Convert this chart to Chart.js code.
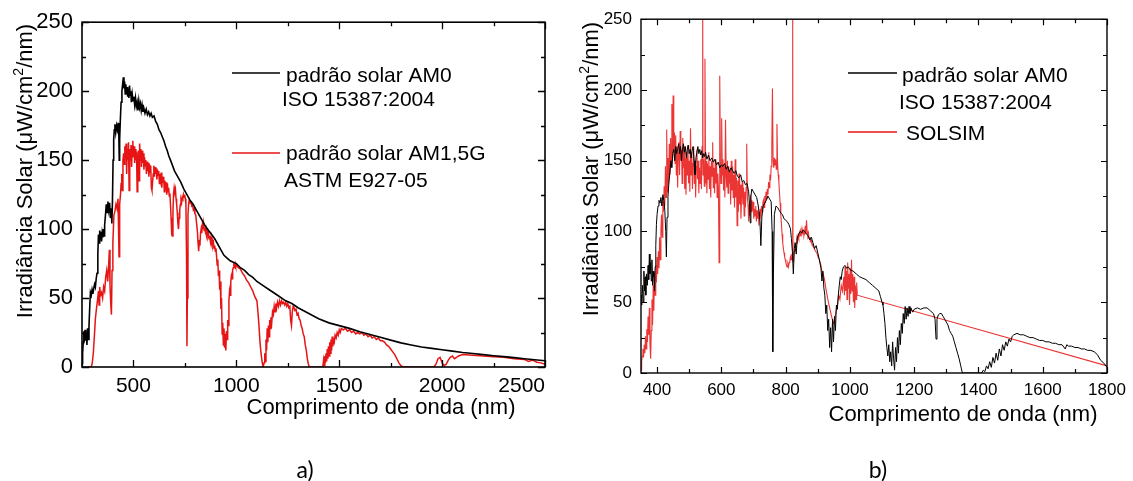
<!DOCTYPE html>
<html>
<head>
<meta charset="utf-8">
<script src="https://cdn.jsdelivr.net/npm/chart.js@4.4.1/dist/chart.umd.min.js"></script>
<style>
  body { margin: 0; background: #fff; width: 1133px; height: 481px; position: relative; overflow: hidden; }
  canvas { position: absolute; top: 0; }
  #chartA { left: 0; }
  #chartB { left: 560px; }
</style>
</head>
<body>
<canvas id="chartA" width="560" height="481"></canvas>
<canvas id="chartB" width="573" height="481"></canvas>
<script>
// ---- data: wavelength (nm), irradiance (uW/cm2/nm) ----

// a) AM0 reference spectrum (ISO 15387:2004)
const am0A = [[250,3],[253,10],[256,18],[259,26],[262,22],[265,27],[268,19],[271,25],[274,16],[277,28],[280,20],[284,30],[288,45],[291,54],[295,52],[299,56],[303,53],[307,57],[311,60],[315,58],[319,64],[323,68],[327,82],[330,96],[333,90],[336,99],[339,93],[342,98],[345,91],[348,97],[351,94],[354,100],[357,95],[360,103],[364,110],[368,118],[372,112],[376,120],[380,114],[384,119],[388,108],[392,115],[395,104],[398,120],[401,150],[404,165],[407,172],[410,176],[414,170],[418,175],[422,172],[426,177],[429,168],[431,150],[433,165],[436,178],[440,192],[444,200],[448,206],[451,210],[454,202],[457,207],[460,198],[463,205],[466,199],[469,203],[472,196],[475,201],[478,195],[481,204],[484,197],[487,200],[490,192],[494,198],[498,193],[502,196],[506,190],[510,195],[514,189],[518,192],[522,186],[526,193],[530,188],[534,191],[538,186],[542,190],[546,185],[550,188],[556,184],[562,187],[568,183],[574,185],[580,182],[586,184],[592,181],[600,182],[608,178],[616,176],[624,172],[632,170],[640,167],[648,164],[656,160],[664,157],[672,153],[680,150],[690,146],[700,142],[715,138],[730,134],[745,129],[760,125],[775,121],[790,118],[805,114],[820,110],[835,106],[850,102],[865,99],[880,96],[895,93],[910,89],[925,85],[940,81],[955,79],[970,77],[985,76],[1000,75],[1020,72],[1040,70],[1060,67],[1080,65],[1100,62],[1130,59],[1160,56],[1200,52],[1240,48],[1270,46],[1300,43],[1350,39],[1400,35],[1450,32],[1500,30],[1550,28],[1600,25.5],[1650,23.5],[1700,21.5],[1750,19.5],[1800,17.5],[1850,16],[1900,14.5],[1950,13.5],[2000,12.5],[2050,11.5],[2100,10.5],[2150,9.8],[2200,9],[2250,8.2],[2300,7.5],[2350,6.8],[2400,6],[2450,5.2],[2500,4.5]];

// a) AM1.5G reference spectrum (ASTM E927-05)
const am15gA = [[280,0],[295,0],[300,3],[305,10],[310,22],[315,35],[320,42],[325,48],[330,55],[333,45],[336,58],[340,52],[345,54],[350,50],[355,58],[360,55],[365,65],[370,70],[375,62],[380,75],[383,85],[386,60],[390,45],[393,38],[396,70],[400,90],[405,110],[410,113],[415,118],[420,115],[425,122],[430,80],[433,118],[437,125],
  [440,133],[443,140],[446,128],[449,150],[452,155],[455,147],[458,160],[461,152],[464,162],[467,140],[470,158],[473,150],[476,163],[479,128],[482,158],[485,150],[488,161],[491,145],[494,160],[497,164],[500,152],[503,160],[506,148],[509,158],[512,150],[515,156],[518,127],[521,150],[524,157],[527,135],[530,162],[533,150],[536,158],[539,145],[542,157],[545,148],[548,155],[551,143],[554,152],[557,146],[560,150],[563,140],[566,149],[569,142],[572,148],[575,138],[578,147],[581,141],[584,146],[587,130],[590,128],[593,134],[596,140],[599,146],[602,138],[605,145],[608,140],[611,144],[614,136],[617,143],[620,139],[623,142],[626,133],[629,140],[632,136],[635,141],[638,130],[641,138],[644,134],[647,138],[650,127],[653,135],[656,131],[659,134],[662,125],[665,133],[668,127],[671,130],[674,124],[677,126],[680,118],[683,108],[686,96],[689,95],[692,112],[695,126],[698,130],[701,127],[704,129],[707,122],[710,118],[713,112],[716,104],[719,100],[722,108],[725,114],[728,118],[731,121],[734,119],[737,123],[740,122],[743,125],[746,123],[749,125],[752,122],[755,118],[758,80],[760,15],[762,50],[765,110],[768,118],[771,121],[775,119],[779,120],[783,117],[787,118],[791,114],[795,115],[799,111],[803,110],[807,104],[811,98],[814,90],[817,84],[820,92],[823,88],[826,97],[829,100],[832,97],[835,103],[838,100],[841,104],[844,99],[847,101],[850,98],[853,100],[856,96],[859,98],[862,95],[865,97],[868,93],[871,95],[874,91],[877,94],[880,90],[883,92],[886,88],[889,90],[892,86],[895,88],[898,84],[901,86],[904,80],[907,74],[910,78],[913,66],[916,70],[919,56],[922,62],[925,42],[928,50],[931,24],[934,32],[937,16],[940,28],[943,14],[946,24],[949,12],[952,26],[955,20],[958,34],[961,30],[964,48],[967,55],[970,52],[973,62],[976,66],[979,64],[982,70],[985,72],[988,74],[991,73],[994,75],[997,73],[1000,74],
  [1010,72],[1020,71],[1030,68],[1040,66],[1050,63],[1060,61],[1070,58],[1080,55],[1090,51],[1100,48],[1105,40],[1110,30],[1115,18],[1120,10],[1125,4],[1130,0],
  [1135,3],[1138,10],[1141,4],[1144,20],[1147,12],[1150,28],[1153,18],[1156,30],[1159,22],[1162,34],[1165,28],[1168,36],[1172,32],[1176,40],[1180,38],[1184,44],[1188,40],[1192,46],[1196,43],[1200,47],[1205,44],[1210,48],[1215,45],[1220,48],[1225,46],[1230,47],[1235,45],[1240,47],[1245,44],[1250,46],[1255,43],[1260,44],[1264,34],[1268,30],[1272,40],[1276,44],[1280,43],[1285,41],[1290,42],[1295,38],[1300,39],[1305,35],[1310,34],[1315,30],[1320,28],[1325,24],[1330,22],[1335,16],[1340,12],[1345,6],[1350,2],[1355,0],
  [1420,0],[1424,5],[1427,1],[1430,8],[1433,3],[1436,10],[1439,4],[1442,13],[1445,6],[1448,15],[1451,8],[1454,18],[1457,10],[1460,20],[1463,12],[1466,22],[1469,15],[1472,20],[1476,18],[1480,23],[1485,21],[1490,25],[1495,23],[1500,27],[1505,25],[1510,28],[1520,27],[1530,28],[1540,26],[1550,27],[1560,25],[1570,26],[1580,24],[1590,25],[1600,24],[1610,25],[1620,23],[1630,24],[1640,22],[1650,23],[1660,21],[1670,22],[1680,20],[1690,21],[1700,19],[1710,19],[1720,18],[1730,16],[1740,15],[1750,13],[1760,11],[1770,9],[1780,6],[1790,3],[1800,1],[1810,0],
  [1960,0],[1970,2],[1980,6],[1990,7],[2000,3],[2010,1],[2020,2],[2030,5],[2040,7],[2050,8],[2060,6],[2070,7],[2080,8],[2100,9],[2150,8.5],[2200,8],[2250,7.5],[2300,7],[2350,6],[2400,5.5],[2420,4],[2440,5],[2460,3.5],[2480,3],[2500,2]];

// b) AM0 reference spectrum
const am0B = [[350,55],[352,48],[355,62],[357,50],[359,72],[361,58],[363,68],[365,55],[367,70],[370,62],[372,76],[374,66],[376,84],[378,70],[380,78],[382,65],[384,80],[386,62],[388,72],[390,68],[392,58],[394,75],[396,90],[398,105],[400,112],[403,118],[406,122],[409,120],[412,124],[415,118],[418,126],[421,122],[424,115],[427,100],[429,82],[431,110],[434,125],[437,135],[440,142],[443,150],[446,145],[449,155],[452,158],[455,150],[458,160],[461,155],[464,158],[467,162],[470,155],[473,160],[476,150],[479,158],[482,162],[485,156],[488,160],[491,152],[494,158],[497,161],[500,155],[503,158],[506,152],[509,157],[512,160],[515,150],[518,140],[521,152],[524,156],[527,160],[530,155],[533,158],[536,154],[539,157],[542,152],[545,155],[548,153],[551,156],[555,151],[560,154],[565,150],[570,152],[575,149],[580,151],[585,147],[590,149],[595,145],[600,147],[605,146],[610,148],[615,144],[620,146],[625,142],[630,145],[635,143],[640,141],[645,143],[650,139],[655,138],[660,140],[665,135],[670,136],[675,133],[680,134],[685,128],[688,118],[690,106],[692,125],[695,130],[700,128],[705,126],[710,124],[715,118],[720,108],[723,90],[726,110],[730,118],[735,120],[740,122],[745,125],[750,123],[755,121],[758,100],[760,15],[762,70],[765,112],[770,118],[775,117],[780,115],[785,113],[790,112],[795,109],[800,108],[805,107],[810,105],[815,102],[818,95],[821,86],[824,70],[827,88],[830,92],[833,84],[836,95],[840,98],[845,100],[850,99],[855,101],[860,100],[865,98],[870,97],[875,94],[880,96],[885,92],[890,88],[895,90],[900,85],[905,80],[910,74],[913,65],[916,72],[919,60],[922,55],[925,42],[928,48],[931,30],[934,38],[937,18],[940,32],[943,15],[946,38],[949,22],[952,40],[955,30],[958,48],[961,45],[964,55],[967,62],[970,68],[973,66],[976,72],[980,75],[985,76],[990,74],[995,75],[1000,73],[1010,72],[1020,70],[1030,68],[1040,67],[1050,66],[1060,64],[1070,62],[1080,60],[1090,58],[1095,54],[1100,50],[1103,48],[1106,42],[1109,35],[1112,25],[1115,18],[1118,12],[1121,20],[1124,8],[1127,15],[1130,5],[1133,22],[1136,10],[1139,2],[1142,18],[1145,8],[1148,25],[1151,14],[1154,30],[1157,20],[1160,35],[1163,28],[1166,42],[1169,35],[1172,47],[1175,38],[1178,46],[1181,40],[1184,47],[1187,42],[1190,46],[1195,43],[1200,45],[1210,46],[1220,45],[1230,46],[1240,46],[1250,44],[1260,42],[1265,38],[1268,24],[1271,38],[1275,41],[1280,42],[1285,42],[1290,40],[1295,38],[1300,36],[1305,34],[1310,30],[1315,28],[1320,26],[1325,22],[1330,18],[1335,14],[1340,10],[1345,5],[1350,0],[1410,0],[1415,2],[1420,1],[1425,5],[1430,3],[1435,8],[1440,4],[1445,11],[1450,7],[1455,14],[1460,9],[1465,17],[1470,12],[1475,20],[1480,16],[1485,22],[1490,19],[1495,24],[1500,22],[1505,26],[1510,27],[1520,28],[1530,27],[1540,27],[1550,26],[1560,25],[1570,25],[1580,24],[1590,23],[1600,23],[1610,22],[1620,22],[1630,21],[1640,21],[1650,20],[1660,20],[1670,17],[1675,20],[1680,19],[1690,19],[1700,18],[1710,18],[1720,17],[1730,17],[1740,16],[1750,16],[1760,15],[1770,13],[1780,9],[1790,7],[1800,4]];

// b) solar simulator (SOLSIM) measurement
const solsimB = [[350,2],[352,8],[354,12],[356,17],[358,11],[360,20],[362,14],[364,26],[366,17],[368,31],[370,22],[372,40],[374,27],[376,46],[378,20],[380,10],[382,30],[384,52],[386,34],[388,62],[390,44],[392,71],[394,55],[396,76],[398,64],[400,82],[402,70],[404,86],[406,74],[408,96],[410,80],[412,102],[414,112],[416,96],[418,121],[420,114],[422,132],[424,118],[426,146],[428,124],[430,172],[432,128],[434,152],[436,134],[438,162],[440,140],[442,166],[444,146],[446,190],[448,150],[450,196],[452,156],[454,170],[456,148],[458,168],[460,140],[462,160],[464,131],[466,156],[468,163],[470,140],[472,171],[474,150],[476,158],[478,134],[480,166],[482,145],[484,160],[486,130],[488,152],[490,126],[492,156],[494,140],[496,161],[498,134],[500,150],[502,128],[504,173],[506,140],[508,156],[510,130],[512,148],[514,160],[516,134],[518,150],[520,124],[522,146],[524,158],[526,137],[528,150],[530,127],[532,145],[534,134],[536,151],[538,130],[540,160],[542,262],[543,140],[545,151],[547,132],[549,222],[551,134],[553,150],[555,127],[557,148],[559,137],[561,156],[563,130],[565,146],[567,124],[569,150],[571,139],[573,163],[575,131],[577,145],[579,127],[581,151],[583,134],[585,148],[587,124],[589,141],[591,130],[593,78],[595,210],[597,150],[599,134],[601,180],[603,140],[605,151],[607,129],[609,146],[611,124],[613,179],[615,139],[617,131],[619,150],[621,127],[623,146],[625,134],[627,143],[629,119],[631,150],[633,129],[635,146],[637,124],[639,140],[641,117],[643,151],[645,124],[647,138],[649,104],[651,136],[653,114],[655,141],[657,119],[659,133],[661,109],[663,126],[665,135],[667,119],[669,131],[671,111],[673,128],[675,117],[677,131],[679,162],[681,124],[683,119],[685,107],[687,118],[689,111],[691,126],[693,114],[695,122],[697,117],[699,121],[701,109],[703,116],[705,111],[707,118],[709,107],[711,115],[713,109],[715,114],[717,104],[719,112],[721,116],[723,109],[725,118],[727,114],[729,120],[731,122],[733,117],[735,125],[737,120],[739,128],[741,123],[743,130],[745,126],[747,135],[749,131],[751,140],[753,136],[755,146],[757,160],[759,201],[761,150],[763,145],[765,152],[767,147],[769,151],[771,144],[773,176],[775,148],[777,140],[779,135],[781,127],[783,120],[785,112],[787,105],[789,98],[791,92],[793,88],[795,85],[797,82],[799,80],[801,78],[803,76],[805,75],[807,77],[809,75],[811,78],[813,79],[815,82],[817,80],[819,84],[821,80],[822,255],[823,79],[825,82],[827,86],[829,90],[831,88],[833,92],[835,95],[837,93],[839,97],[841,95],[843,99],[845,97],[847,100],[849,98],[851,102],[853,99],[855,100],[857,97],[859,99],[861,104],[863,98],[865,108],[867,100],[869,97],[871,99],[873,95],[875,96],[877,93],[879,94],[881,92],[885,90],[889,88],[893,86],[897,85],[901,82],[905,80],[909,77],[913,72],[917,70],[921,66],[925,60],[929,55],[933,50],[937,46],[941,42],[945,38],[949,35],[953,38],[957,44],[961,48],[965,55],[969,52],[973,62],[977,58],[981,68],[983,55],[985,75],[987,58],[989,72],[991,52],[993,78],[995,60],[997,70],[999,48],[1001,74],[1003,56],[1005,80],[1007,58],[1009,70],[1011,50],[1013,68],[1015,46],[1017,62],[1019,52],[1021,64],[1023,55],[1025,55],[1800,5]];

// ---- axis ticks ----
const xTicksA = [250, 500, 750, 1000, 1250, 1500, 1750, 2000, 2250, 2500];
const xLabelsA = [500, 1000, 1500, 2000, 2500];
const xTicksB = [400, 500, 600, 700, 800, 900, 1000, 1100, 1200, 1300, 1400, 1500, 1600, 1700, 1800];
const xLabelsB = [400, 600, 800, 1000, 1200, 1400, 1600, 1800];
const yTicks = [0, 25, 50, 75, 100, 125, 150, 175, 200, 225, 250];
const yLabels = [0, 50, 100, 150, 200, 250];

const FONT = "'Liberation Sans', Arial, Helvetica, sans-serif";
const RED = '#e61414';

const toXY = arr => arr.map(p => ({ x: p[0], y: p[1] }));

// box frame with inward tick marks on all four sides
const framePlugin = {
  id: 'frame',
  afterDatasetsDraw(chart, args, opts) {
    const { ctx, chartArea: a, scales } = chart;
    ctx.save();
    ctx.strokeStyle = '#000';
    ctx.lineWidth = opts.tickWidth;
    ctx.beginPath();
    scales.x.ticks.forEach(t => {
      const px = Math.round(scales.x.getPixelForValue(t.value)) + 0.5;
      const len = t.label ? opts.major : opts.minor;
      ctx.moveTo(px, a.bottom); ctx.lineTo(px, a.bottom - len);
      ctx.moveTo(px, a.top); ctx.lineTo(px, a.top + len);
    });
    scales.y.ticks.forEach(t => {
      const py = Math.round(scales.y.getPixelForValue(t.value)) + 0.5;
      const len = t.label ? opts.major : opts.minor;
      ctx.moveTo(a.left, py); ctx.lineTo(a.left + len, py);
      ctx.moveTo(a.right, py); ctx.lineTo(a.right - len, py);
    });
    ctx.stroke();
    ctx.lineWidth = opts.width;
    ctx.strokeRect(a.left, a.top, a.right - a.left, a.bottom - a.top);
    ctx.restore();
  }
};

// axis titles, legend entries and panel captions
const notesPlugin = {
  id: 'notes',
  afterDraw(chart, args, opts) {
    const ctx = chart.ctx;
    ctx.save();
    (opts.lines || []).forEach(l => {
      ctx.strokeStyle = l.color;
      ctx.lineWidth = l.width;
      ctx.beginPath();
      ctx.moveTo(l.x1, l.y);
      ctx.lineTo(l.x2, l.y);
      ctx.stroke();
    });
    (opts.items || []).forEach(it => {
      const parts = (Array.isArray(it.text) ? it.text : [it.text]).map(p => typeof p === 'string' ? { t: p } : p);
      const family = it.family || FONT;
      const fontOf = p => (p.sup ? Math.round(it.size * 0.62) : it.size) + 'px ' + family;
      let w = 0;
      parts.forEach(p => { ctx.font = fontOf(p); w += ctx.measureText(p.t).width; });
      ctx.save();
      ctx.translate(it.x, it.y);
      if (it.rotate) ctx.rotate(it.rotate);
      ctx.fillStyle = '#000';
      ctx.textAlign = 'left';
      ctx.textBaseline = 'alphabetic';
      let x = it.align === 'center' ? -w / 2 : 0;
      parts.forEach(p => {
        ctx.font = fontOf(p);
        ctx.fillText(p.t, x, p.sup ? -it.size * 0.42 : 0);
        x += ctx.measureText(p.t).width;
      });
      ctx.restore();
    });
    ctx.restore();
  }
};

const yTitle = ['Irradiância Solar (\u03bcW/cm', { t: '2', sup: true }, '/nm)'];

function makeChart(id, p) {
  return new Chart(document.getElementById(id), {
    type: 'line',
    data: { datasets: p.datasets },
    plugins: [framePlugin, notesPlugin],
    options: {
      responsive: false,
      animation: false,
      devicePixelRatio: 1,
      layout: { padding: p.padding },
      elements: { point: { radius: 0 }, line: { tension: 0 } },
      scales: {
        x: {
          type: 'linear',
          min: p.xMin, max: p.xMax,
          afterBuildTicks: s => { s.ticks = p.xTicks.map(v => ({ value: v })); },
          afterFit: s => { s.height = p.xHeight; },
          ticks: {
            autoSkip: false, maxRotation: 0, minRotation: 0,
            align: p.xAlign, padding: p.xPad, color: '#000',
            font: { family: FONT, size: p.xFont },
            callback: v => p.xLabels.includes(v) ? String(v) : ''
          },
          grid: { display: false, drawTicks: false },
          border: { display: false }
        },
        y: {
          min: 0, max: 250,
          afterBuildTicks: s => { s.ticks = yTicks.map(v => ({ value: v })); },
          afterFit: s => { s.width = p.yWidth; },
          ticks: {
            autoSkip: false, padding: p.yPad, color: '#000',
            font: { family: FONT, size: p.yFont },
            callback: v => yLabels.includes(v) ? String(v) : ''
          },
          grid: { display: false, drawTicks: false },
          border: { display: false }
        }
      },
      plugins: {
        legend: { display: false },
        tooltip: { enabled: false },
        frame: p.frame,
        notes: p.notes
      }
    }
  });
}

// a) AM0 x AM1,5G
makeChart('chartA', {
  datasets: [
    { label: 'padrão solar AM0', data: toXY(am0A), borderColor: '#000', borderWidth: 1.6 },
    { label: 'padrão solar AM1,5G', data: toXY(am15gA), borderColor: RED, borderWidth: 1.5 }
  ],
  padding: { left: 0, top: 16, right: 15, bottom: 0 },
  xMin: 250, xMax: 2500, xTicks: xTicksA, xLabels: xLabelsA, xAlign: 'inner',
  xHeight: 114, xPad: 7, xFont: 21,
  yWidth: 82, yPad: 9, yFont: 22,
  frame: { width: 1.6, tickWidth: 1.3, major: 7, minor: 4 },
  notes: {
    lines: [
      { color: '#000', width: 1.6, x1: 232, x2: 280, y: 73 },
      { color: RED, width: 1.6, x1: 232, x2: 280, y: 153 }
    ],
    items: [
      { text: 'padrão solar AM0', x: 286, y: 82, size: 21 },
      { text: 'ISO 15387:2004', x: 282, y: 106, size: 21 },
      { text: 'padrão solar AM1,5G', x: 286, y: 160, size: 21 },
      { text: 'ASTM E927-05', x: 284, y: 187, size: 21 },
      { text: 'Comprimento de onda (nm)', x: 381, y: 414, size: 22, align: 'center' },
      { text: yTitle, x: 32, y: 171, size: 22, align: 'center', rotate: -Math.PI / 2 },
      { text: 'a)', x: 305, y: 478, size: 23, align: 'center', family: "Lato, 'Open Sans', sans-serif" }
    ]
  }
});

// b) AM0 x SOLSIM
makeChart('chartB', {
  datasets: [
    { label: 'padrão solar AM0', data: toXY(am0B), borderColor: '#000', borderWidth: 1 },
    { label: 'SOLSIM', data: toXY(solsimB), borderColor: 'rgba(232,16,16,0.85)', borderWidth: 1.1 }
  ],
  padding: { left: 0, top: 19, right: 26, bottom: 0 },
  xMin: 350, xMax: 1800, xTicks: xTicksB, xLabels: xLabelsB, xAlign: 'center',
  xHeight: 108, xPad: 7, xFont: 17,
  yWidth: 81, yPad: 9, yFont: 17,
  frame: { width: 1.4, tickWidth: 1.2, major: 6, minor: 4 },
  notes: {
    lines: [
      { color: '#000', width: 1.4, x1: 288, x2: 337, y: 73 },
      { color: RED, width: 1.4, x1: 288, x2: 337, y: 132 }
    ],
    items: [
      { text: 'padrão solar AM0', x: 342, y: 82, size: 21 },
      { text: 'ISO 15387:2004', x: 339, y: 109, size: 21 },
      { text: 'SOLSIM', x: 346, y: 140, size: 21 },
      { text: 'Comprimento de onda (nm)', x: 403, y: 421, size: 22, align: 'center' },
      { text: yTitle, x: 38, y: 169, size: 22, align: 'center', rotate: -Math.PI / 2 },
      { text: 'b)', x: 318, y: 478, size: 23, align: 'center', family: "Lato, 'Open Sans', sans-serif" }
    ]
  }
});
</script>
</body>
</html>
